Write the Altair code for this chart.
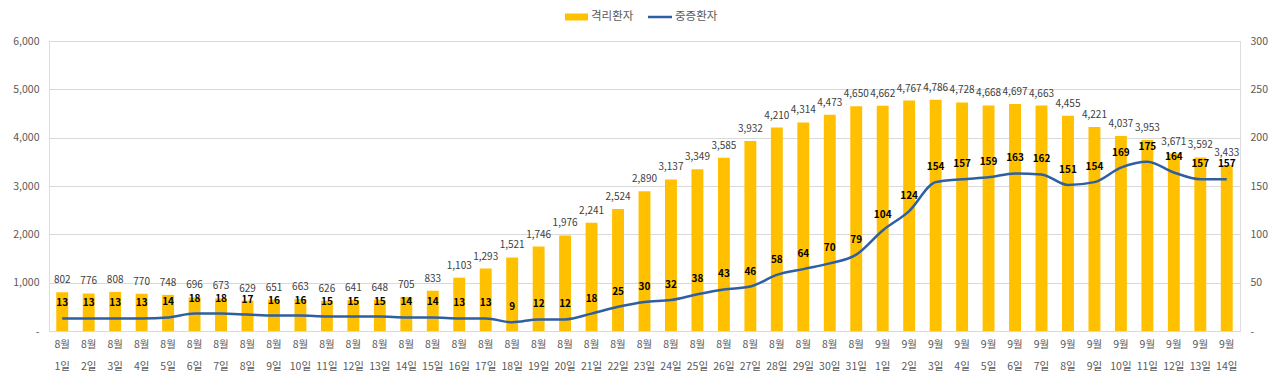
import altair as alt
import pandas as pd

days = [f"8월 {d}일" for d in range(1, 32)] + [f"9월 {d}일" for d in range(1, 15)]
isolated = [802, 776, 808, 770, 748, 696, 673, 629, 651, 663, 626, 641, 648, 705, 833,
            1103, 1293, 1521, 1746, 1976, 2241, 2524, 2890, 3137, 3349, 3585, 3932, 4210,
            4314, 4473, 4650, 4662, 4767, 4786, 4728, 4668, 4697, 4663, 4455, 4221, 4037,
            3953, 3671, 3592, 3433]
severe = [13, 13, 13, 13, 14, 18, 18, 17, 16, 16, 15, 15, 15, 14, 14, 13, 13, 9, 12, 12,
          18, 25, 30, 32, 38, 43, 46, 58, 64, 70, 79, 104, 124, 154, 157, 159, 163, 162,
          151, 154, 169, 175, 164, 157, 157]

df = pd.DataFrame({"day": days, "isolated": isolated, "severe": severe})

FONT = "Noto Sans CJK KR"
GOLD = "#FFC000"
BLUE = "#2F5FA3"

x = alt.X("day:N", sort=days, title=None,
          scale=alt.Scale(paddingInner=0.55, paddingOuter=0.275),
          axis=alt.Axis(labelAngle=0, labelExpr="split(datum.label, ' ')",
                        labelLineHeight=22, labelPadding=8, ticks=False,
                        domainColor="#D9D9D9", labelColor="#595959",
                        labelFontSize=10.5, labelFont=FONT))

base = alt.Chart(df)

bar = base.mark_bar(color=GOLD).encode(
    x=x,
    y=alt.Y("isolated:Q", title=None,
            scale=alt.Scale(domain=[0, 6000]),
            axis=alt.Axis(values=[0, 1000, 2000, 3000, 4000, 5000, 6000],
                          labelExpr="datum.value == 0 ? '-' : format(datum.value, ',')",
                          ticks=False, domain=False, gridColor="#D9D9D9",
                          labelPadding=10, labelColor="#595959",
                          labelFontSize=10.5, labelFont=FONT)),
)
bar_text = base.mark_text(baseline="bottom", dy=-7, fontSize=10, font=FONT,
                          color="#404040").encode(
    x=alt.X("day:N", sort=days),
    y=alt.Y("isolated:Q"),
    text=alt.Text("isolated:Q", format=","),
)
bars = alt.layer(bar, bar_text)

line = base.mark_line(color=BLUE, strokeWidth=2.5, interpolate="monotone").encode(
    x=alt.X("day:N", sort=days),
    y=alt.Y("severe:Q", title=None,
            scale=alt.Scale(domain=[0, 300]),
            axis=alt.Axis(orient="right", values=[0, 50, 100, 150, 200, 250, 300],
                          labelExpr="datum.value == 0 ? '-' : datum.value",
                          ticks=False, domain=False, grid=False,
                          labelPadding=10, labelColor="#595959",
                          labelFontSize=10.5, labelFont=FONT)),
)
line_text = base.mark_text(baseline="middle", dy=-15, fontSize=10, font=FONT,
                           fontWeight="bold", color="#000000").encode(
    x=alt.X("day:N", sort=days),
    y=alt.Y("severe:Q"),
    text=alt.Text("severe:Q"),
)
lines = alt.layer(line, line_text)

one = pd.DataFrame({"k": [0]})
leg_rect = alt.Chart(one).mark_rect(color=GOLD).encode(
    x=alt.value(516), x2=alt.value(539), y=alt.value(-27.5), y2=alt.value(-20.5))
leg_t1 = alt.Chart(one).mark_text(align="left", baseline="middle", fontSize=11.5,
                                  font=FONT, color="#595959").encode(
    x=alt.value(542), y=alt.value(-24), text=alt.value("격리환자"))
leg_line = alt.Chart(one).mark_rule(color=BLUE, strokeWidth=2.5).encode(
    x=alt.value(599), x2=alt.value(623), y=alt.value(-24))
leg_t2 = alt.Chart(one).mark_text(align="left", baseline="middle", fontSize=11.5,
                                  font=FONT, color="#595959").encode(
    x=alt.value(626), y=alt.value(-24), text=alt.value("중증환자"))
legend = alt.layer(leg_rect, leg_t1, leg_line, leg_t2)

chart = alt.layer(bars, lines, legend).resolve_scale(y="independent").properties(
    width=1191, height=290,
    autosize=alt.AutoSizeParams(type="none"),
    padding={"left": 41, "top": 33, "right": 32, "bottom": 46},
).configure_view(stroke=None).configure(background="white")

chart.save("out.html", embed_options={"renderer": "svg", "actions": False})
